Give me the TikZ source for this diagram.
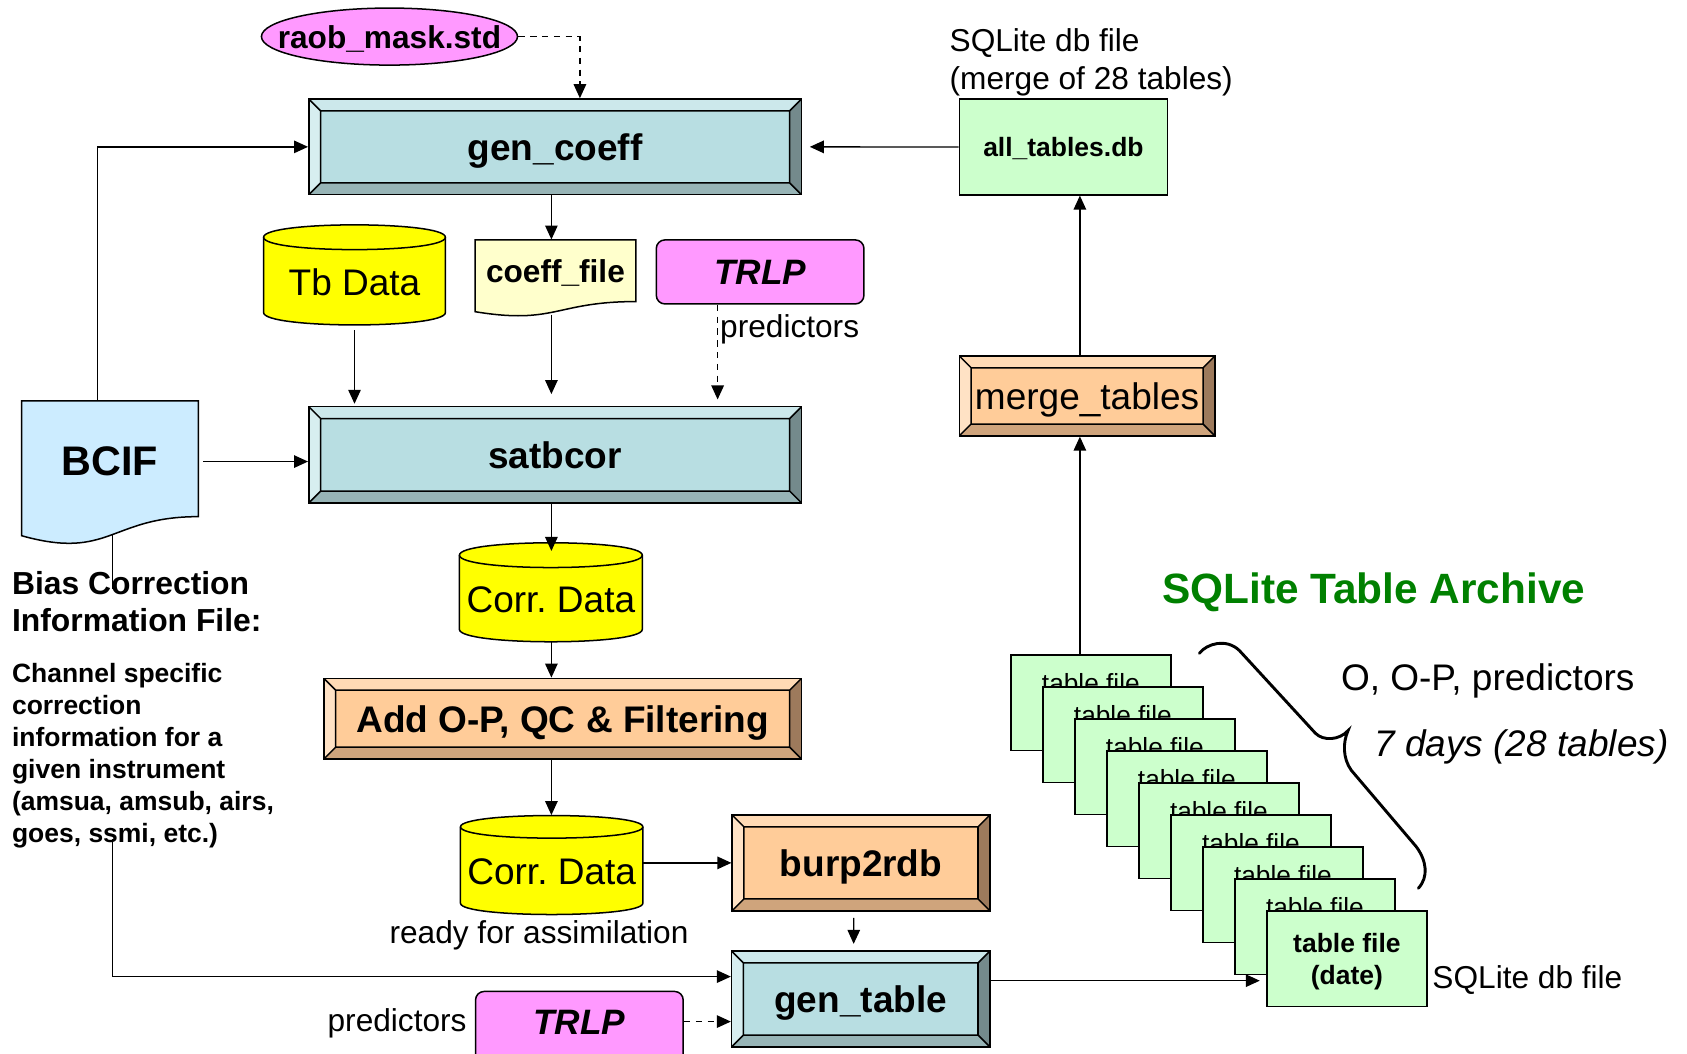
\documentclass[tikz,border=0pt]{standalone}
\usepackage{fontspec}
\setmainfont{Liberation Sans}
\usetikzlibrary{arrows.meta,shapes.geometric,calc}
\definecolor{tealF}{RGB}{184,222,226}
\definecolor{tealT}{RGB}{204,232,235}
\definecolor{tealL}{RGB}{215,238,240}
\definecolor{tealR}{RGB}{116,138,140}
\definecolor{tealB}{RGB}{151,180,182}
\definecolor{orgF}{RGB}{255,204,153}
\definecolor{orgT}{RGB}{255,218,181}
\definecolor{orgL}{RGB}{255,226,197}
\definecolor{orgR}{RGB}{157,122,92}
\definecolor{orgB}{RGB}{207,164,124}
\definecolor{magF}{RGB}{255,153,255}
\definecolor{cylF}{RGB}{255,255,0}
\definecolor{docF}{RGB}{255,255,204}
\definecolor{bcifF}{RGB}{204,236,255}
\definecolor{grnF}{RGB}{204,255,204}
\definecolor{archG}{RGB}{0,128,0}
\pgfdeclarelayer{bg}
\pgfsetlayers{bg,main}
\newcommand\bevelpaint[4]{%
  \path (path picture bounding box.north west) coordinate (bvNW)
        (path picture bounding box.north east) coordinate (bvNE)
        (path picture bounding box.south west) coordinate (bvSW)
        (path picture bounding box.south east) coordinate (bvSE);
  \path ([shift={(5.5pt,-5.5pt)}]bvNW) coordinate (bvnw)
        ([shift={(-5.5pt,-5.5pt)}]bvNE) coordinate (bvne)
        ([shift={(5.5pt,5.5pt)}]bvSW) coordinate (bvsw)
        ([shift={(-5.5pt,5.5pt)}]bvSE) coordinate (bvse);
  \fill[#1] (bvNW) -- (bvNE) -- (bvne) -- (bvnw) -- cycle;
  \fill[#2] (bvNW) -- (bvnw) -- (bvsw) -- (bvSW) -- cycle;
  \fill[#3] (bvNE) -- (bvne) -- (bvse) -- (bvSE) -- cycle;
  \fill[#4] (bvSW) -- (bvsw) -- (bvse) -- (bvSE) -- cycle;
  \draw[line width=0.7pt] (bvnw) rectangle (bvse)
     (bvNW) -- (bvnw) (bvNE) -- (bvne) (bvSW) -- (bvsw) (bvSE) -- (bvse);
}
\newcommand\cylshape[6]{%
  \draw[fill=#6, line width=0.7pt] (#1,#3+#5) -- (#1,#4-#5)
     .. controls (#1,#4+#5/3) and (#2,#4+#5/3) .. (#2,#4-#5)
     -- (#2,#3+#5) .. controls (#2,#3-#5/3) and (#1,#3-#5/3) .. cycle;
  \draw[line width=0.7pt] (#1,#3+#5) .. controls (#1,#3+7*#5/3) and (#2,#3+7*#5/3) .. (#2,#3+#5);
}
\tikzset{
  every node/.style={inner sep=0pt, text depth=0pt},
  sz/.style 2 args={minimum width=#1*0.5pt, minimum height=#2*0.5pt},
  bevelbox/.style={draw, line width=0.7pt},
  tealbox/.style={bevelbox, fill=tealF, path picture={\bevelpaint{tealT}{tealL}{tealR}{tealB}}},
  orangebox/.style={bevelbox, fill=orgF, path picture={\bevelpaint{orgT}{orgL}{orgR}{orgB}}},
  bigb/.style={font=\fontsize{17.2}{20}\selectfont\bfseries},
  bign/.style={font=\fontsize{17.2}{20}\selectfont},
  medn/.style={font=\fontsize{14.7}{17.8}\selectfont},
  medb/.style={font=\fontsize{14.7}{17.8}\selectfont\bfseries},
  smb/.style={font=\fontsize{12.3}{14.7}\selectfont\bfseries},
  trlpf/.style={font=\fontsize{16.4}{19}\selectfont\bfseries\itshape},
  tblbox/.style={draw, line width=0.7pt, fill=grnF, sz={148.6}{89}},
  arr/.style={line width=0.6pt, -{Triangle[length=6.5pt,width=5.8pt]}},
  darr/.style={arr, dash pattern=on 3pt off 2.5pt},
}
\begin{document}
\begin{tikzpicture}[x=0.5pt,y=-0.5pt]
\useasboundingbox (0,0) rectangle (1568,979);
\clip (0,0) rectangle (1568,979);

% ---- process boxes
\node[ellipse, draw, line width=0.7pt, fill=magF, sz={238}{53}, medb] (raob) at (362,34) {\makebox[0pt]{raob\_mask.std}};
\node[tealbox, sz={458}{89}, bigb] (gencoeff) at (516,136.5) {gen\_coeff};
\node[draw, line width=0.7pt, fill=grnF, sz={193.6}{89}, smb] (alltables) at (988.4,136.6) {all\_tables.db};
\node[anchor=west, align=left, medn] (sqlab) at (882.3,55) {SQLite db file\\(merge of 28 tables)};
\node[orangebox, sz={237.6}{74.3}, bign] (merge) at (1010.4,368) {merge\_tables};

% Tb Data cylinder
\cylshape{245}{414}{209}{302}{11.5}{cylF}
\node[sz={169}{93}, text height=18.9pt, text depth=0pt, bign] (tb) at (329.5,255.5) {Tb Data};

% coeff_file document
\draw[fill=docF, line width=0.7pt] (441.5,223) -- (591,223) -- (591,280.3)
   .. controls (516.25,280.3) and (516.25,302) .. (441.5,289.7) -- cycle;
\node[sz={149.5}{58}, medb] (cfile) at (516.25,252) {coeff\_file};

\node[draw, rounded corners=4pt, line width=0.7pt, fill=magF, sz={193}{59.5}, trlpf] (trlp) at (706.5,252.75) {TRLP};
\node[anchor=west, medn] (pred1) at (669,303) {predictors};

\node[tealbox, sz={458}{89.5}, bigb] (satbcor) at (516,422.75) {satbcor};

% BCIF document
\draw[fill=bcifF, line width=0.7pt] (20,372.7) -- (184.3,372.7) -- (184.3,480.2)
   .. controls (102.15,480.2) and (102.15,521) .. (20,497.9) -- cycle;
\node[sz={164.3}{112.6}, font=\fontsize{19.2}{23}\selectfont\bfseries] (bcif) at (102.15,429) {BCIF};

\node[anchor=west, align=left, font=\fontsize{14.8}{17}\selectfont\bfseries] (bias) at (10.8,559) {Bias Correction\\Information File:};
\node[anchor=west, align=left, font=\fontsize{12.3}{14.87}\selectfont\bfseries] (chan) at (10.8,700.2) {Channel specific\\correction\\information for a\\given instrument\\(amsua, amsub, airs,\\goes, ssmi, etc.)};

% Corr. Data 1
\cylshape{427}{597}{504.5}{596.5}{11.5}{cylF}
\node[sz={170}{92}, text height=18.9pt, text depth=0pt, bign] (corr1) at (512,550.5) {Corr.\ Data};

\node[orangebox, sz={444}{75}, bigb] (addop) at (523,668) {Add O-P, QC \& Filtering};

% Corr. Data 2
\cylshape{428}{597.5}{758}{850}{10.5}{cylF}
\node[sz={169.5}{92}, text height=18.4pt, text depth=0pt, bign] (corr2) at (512.75,804) {Corr.\ Data};
\node[medn] (ready) at (501,866) {ready for assimilation};

\node[orangebox, sz={239.5}{89}, bigb] (burp) at (800.25,802) {burp2rdb};
\node[tealbox, sz={240}{89}, bigb] (gentable) at (800,928.5) {gen\_table};

\node[draw, rounded corners=4pt, line width=0.7pt, fill=magF, sz={193}{77}, text height=1.8pt, text depth=0pt, trlpf] (trlp2) at (538.5,960) {TRLP};
\node[anchor=east, medn] (pred2) at (434,948) {predictors};

% table stack
\foreach \i in {0,...,7}{
  \node[tblbox, text height=0pt, text depth=9.3pt, font=\fontsize{12.2}{14.7}\selectfont] (t\i) at ({1013.9+29.75*\i},{653.2+29.75*\i}) {table file};
}
\node[tblbox, align=center, smb] (t8) at (1251.9,891.2) {table file\\(date)};
\node[anchor=west, medn] (sqlab2) at (1331,907.7) {SQLite db file};

\node[anchor=west, font=\fontsize{19.7}{23}\selectfont\bfseries, text=archG] (arch) at (1079.7,546.8) {SQLite Table Archive};
\node[anchor=west, bign] (ops) at (1246,629) {O, O-P, predictors};
\node[anchor=west, font=\fontsize{17.2}{20}\selectfont\itshape] (days) at (1277,690.7) {7 days (28 tables)};

% brace
\draw[line width=1.35pt, line cap=round] (1114.7,607.2) .. controls (1122,598) and (1140,593) .. (1152,604.7)
   -- (1222.6,681.5) .. controls (1230,689) and (1245,688) .. (1253,679)
   .. controls (1248,690) and (1248,705) .. (1256,716)
   -- (1316.3,786.9) .. controls (1326,800) and (1328,815) .. (1318.3,825.6);

% ---- connectors
\coordinate (colx) at (512.5,0);
\coordinate (mcol) at (1003.7,0);
\draw[darr] (raob.east) -| ([xshift=11.5pt]gencoeff.north);
\draw[arr] (alltables.west) -- ([xshift=3.5pt]gencoeff.east);
\draw[arr] ([xshift=-5.7pt]bcif.north) |- (gencoeff.west);
\draw[arr] (gencoeff.south -| colx) -- (cfile.north -| colx);
\draw[arr, shorten >=1pt] ([yshift=-2.3pt]tb.south) -- (tb.south |- satbcor.north);
\draw[arr, shorten <=5.5pt, shorten >=5.5pt] (cfile.south -| colx) -- (satbcor.north -| colx);
\coordinate (tr1) at ([xshift=-19.75pt]trlp.south);
\draw[darr, shorten >=3pt] (tr1) -- (tr1 |- satbcor.north);
\draw[arr, shorten <=2pt] (bcif.east) -- (bcif.east -| satbcor.west);
\draw[arr, shorten >=-4pt] (satbcor.south -| colx) -- (corr1.north -| colx);
\draw[arr] (corr1.south -| colx) -- (addop.north -| colx);
\draw[arr] (addop.south -| colx) -- (corr2.north -| colx);
\draw[arr] (corr2.east |- burp.west) -- (burp.west);
\draw[arr, shorten <=3pt, shorten >=3pt] ([xshift=-3.3pt]burp.south) -- ([xshift=-3.3pt]gentable.north);
\coordinate (t2e) at ([yshift=5.25pt]trlp2.east);
\draw[darr] (t2e) -- (t2e -| gentable.west);
\coordinate (gte) at ([yshift=8.5pt]gentable.east);
\draw[arr, shorten >=3pt] (gte) -- (gte -| t8.west);
\draw[arr] (t0.north -| mcol) -- (merge.south -| mcol);
\draw[arr] (merge.north -| mcol) -- (alltables.south -| mcol);

\begin{pgfonlayer}{bg}
\draw[arr] ([xshift=1.1pt]bcif.south) |- ([yshift=10.4pt]gentable.west);
\fill[white] (96,547) rectangle (113,780);
\end{pgfonlayer}
\end{tikzpicture}
\end{document}
